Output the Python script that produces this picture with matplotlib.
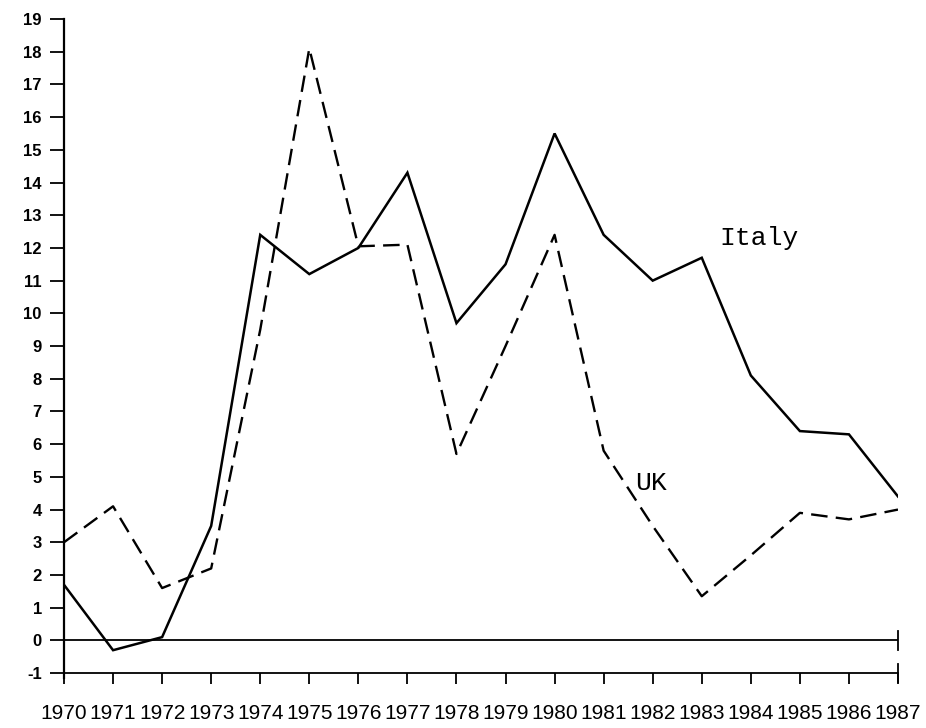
import matplotlib.pyplot as plt

# inflation rates, % per year
years = list(range(1970, 1988))
italy = [1.7, -0.3, 0.1, 3.5, 12.4, 11.2, 12.0, 14.3, 9.7, 11.5,
         15.5, 12.4, 11.0, 11.7, 8.1, 6.4, 6.3, 4.4]
uk = [3.0, 4.1, 1.6, 2.2, 9.5, 18.1, 12.05, 12.1, 5.7, 9.0,
      12.4, 5.8, 3.5, 1.35, 2.6, 3.9, 3.7, 4.0]
y_ticks = list(range(-1, 20))

plt.rcParams['font.family'] = ['Liberation Sans', 'DejaVu Sans']

fig = plt.figure(figsize=(9.26, 7.28), dpi=100)
ax = fig.add_axes([64 / 926, 1 - 678 / 728, (898 - 64) / 926, (678 - 19) / 728])

ax.plot(years, italy, color='black', lw=1.8, solid_joinstyle='miter')
ax.plot(years, uk, color='black', lw=1.7, dashes=(7, 3.5))

# zero line and the end bars at the right
ax.axhline(0, color='black', lw=1.3)
ax.plot([years[-1]] * 2, [-0.28, 0.28], color='black', lw=1.3, clip_on=False)
ax.plot([years[-1]] * 2, [-1.28, -0.72], color='black', lw=1.3, clip_on=False)

ax.set_xlim(years[0], years[-1])
ax.set_ylim(-1.15, 19)
ax.set_xticks(years)
ax.set_xticklabels([str(y) for y in years], fontweight='bold')
ax.set_yticks(y_ticks)
ax.set_yticklabels([str(v) for v in y_ticks], fontweight='bold')

for side in ['top', 'right']:
    ax.spines[side].set_visible(False)
ax.spines['bottom'].set_position(('data', -1))
ax.spines['bottom'].set_linewidth(1.3)
ax.spines['left'].set_linewidth(1.6)
ax.tick_params(axis='y', direction='out', length=10, width=1.3, pad=6, labelsize=12)
ax.tick_params(axis='x', direction='out', length=8, width=1.3, pad=14, labelsize=15)

ax.text(1983.35, 12.3, 'Italy', family='Liberation Mono', fontsize=19,
        ha='left', va='center')
ax.text(1981.65, 4.8, 'UK', family='Liberation Mono', fontsize=19,
        ha='left', va='center')

fig.savefig('out.png', dpi=100)
